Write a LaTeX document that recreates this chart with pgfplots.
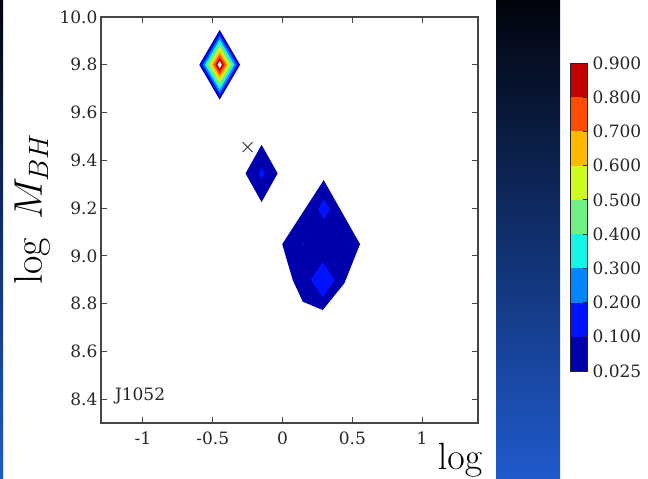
\RequirePackage{fix-cm}
\documentclass[border=0pt]{standalone}
\usepackage[no-math]{fontspec}
\setmainfont{DejaVu Serif}
\usepackage{pgfplots}
\pgfplotsset{compat=1.18}

% slide background
\definecolor{bgtop}{RGB}{2,4,12}
\definecolor{bgmid}{RGB}{14,40,105}
\definecolor{bgbot}{RGB}{32,90,205}
% discrete jet levels
\definecolor{lv1}{RGB}{0,0,172}
\definecolor{lv2}{RGB}{0,18,255}
\definecolor{lv3}{RGB}{0,135,255}
\definecolor{lv4}{RGB}{20,245,230}
\definecolor{lv5}{RGB}{110,240,130}
\definecolor{lv6}{RGB}{206,250,30}
\definecolor{lv7}{RGB}{255,186,0}
\definecolor{lv8}{RGB}{255,77,0}
\definecolor{lv9}{RGB}{194,0,0}
\definecolor{axgray}{RGB}{70,70,70}

\begin{document}
\begin{tikzpicture}[x=1pt,y=1pt]
\path[use as bounding box] (0,0) rectangle (648,479);
\shade[top color=bgtop, middle color=bgmid, bottom color=bgbot] (0,0) rectangle (3,479);
\shade[top color=bgtop, middle color=bgmid, bottom color=bgbot] (496,0) rectangle (560,479);

\begin{axis}[
  at={(101pt,56pt)}, anchor=south west,
  scale only axis, width=377pt, height=406pt,
  xmin=-1.3, xmax=1.4, ymin=8.3, ymax=10.0,
  xtick={-1,-0.5,0,0.5,1},
  xticklabels={-1,-0.5,0,0.5,1},
  ytick={8.4,8.6,8.8,9.0,9.2,9.4,9.6,9.8,10.0},
  yticklabels={8.4,8.6,8.8,9.0,9.2,9.4,9.6,9.8,10.0},
  tick align=inside, major tick length=6pt,
  axis line style={axgray, line width=1.3pt},
  tick style={axgray, line width=1pt},
  ticklabel style={font=\fontsize{17}{20}\selectfont, text=black!85},
  xticklabel style={yshift=-5pt},
  axis on top, clip=false,
]
% J1052 peak near (-0.45, 9.80)
\addplot[fill=lv1, draw=none] coordinates {(-0.596,9.8) (-0.45,9.946) (-0.304,9.8) (-0.45,9.654)} --cycle;
\addplot[fill=lv2, draw=none] coordinates {(-0.585,9.8) (-0.45,9.935) (-0.315,9.8) (-0.45,9.665)} --cycle;
\addplot[fill=lv3, draw=none] coordinates {(-0.570,9.8) (-0.45,9.920) (-0.330,9.8) (-0.45,9.680)} --cycle;
\addplot[fill=lv4, draw=none] coordinates {(-0.555,9.8) (-0.45,9.905) (-0.345,9.8) (-0.45,9.695)} --cycle;
\addplot[fill=lv5, draw=none] coordinates {(-0.540,9.8) (-0.45,9.890) (-0.360,9.8) (-0.45,9.710)} --cycle;
\addplot[fill=lv6, draw=none] coordinates {(-0.525,9.8) (-0.45,9.875) (-0.375,9.8) (-0.45,9.725)} --cycle;
\addplot[fill=lv7, draw=none] coordinates {(-0.510,9.8) (-0.45,9.860) (-0.390,9.8) (-0.45,9.740)} --cycle;
\addplot[fill=lv8, draw=none] coordinates {(-0.495,9.8) (-0.45,9.845) (-0.405,9.8) (-0.45,9.755)} --cycle;
\addplot[fill=lv9, draw=none] coordinates {(-0.480,9.8) (-0.45,9.830) (-0.420,9.8) (-0.45,9.770)} --cycle;
\addplot[fill=white, draw=none] coordinates {(-0.465,9.8) (-0.45,9.815) (-0.435,9.8) (-0.45,9.785)} --cycle;

% second peak near (-0.15, 9.35)
\addplot[fill=lv1, draw=none] coordinates {(-0.265,9.345) (-0.15,9.465) (-0.035,9.345) (-0.15,9.225)} --cycle;
\addplot[fill=lv2, draw=none] coordinates {(-0.172,9.345) (-0.15,9.367) (-0.128,9.345) (-0.15,9.323)} --cycle;

% broad region near (0.3, 9.05)
\addplot[fill=lv1, draw=none] coordinates {(-0.002,9.049) (0.038,8.968) (0.074,8.898) (0.145,8.808) (0.288,8.773) (0.443,8.885) (0.555,9.049) (0.295,9.317)} --cycle;
\addplot[fill=lv2, draw=none] coordinates {(0.255,9.195) (0.297,9.237) (0.339,9.195) (0.297,9.153)} --cycle;
\addplot[fill=lv2, draw=none] coordinates {(0.202,8.900) (0.288,8.973) (0.374,8.900) (0.288,8.827)} --cycle;
\addplot[fill=lv2, draw=none] coordinates {(0.144,9.049) (0.150,9.055) (0.156,9.049) (0.150,9.043)} --cycle;

% reference position
\addplot[only marks, mark=x, mark size=7pt, black!80, line width=0.9pt] coordinates {(-0.25,9.455)};

\node[anchor=west, font=\fontsize{17}{20}\selectfont, text=black!85] at (axis cs:-1.225,8.413) {J1052};
\end{axis}

% colour scale
\begin{axis}[
  at={(570pt,108pt)}, anchor=south west,
  scale only axis, width=17pt, height=308pt,
  xmin=0, xmax=1, ymin=0, ymax=9,
  xtick=\empty,
  ytick={0,1,2,3,4,5,6,7,8,9},
  yticklabels={0.025,0.100,0.200,0.300,0.400,0.500,0.600,0.700,0.800,0.900},
  ytick pos=right, yticklabel pos=right,
  tick align=inside, major tick length=4pt,
  axis line style={black!85, line width=0.8pt},
  tick style={black!85, line width=0.8pt},
  ticklabel style={font=\fontsize{17}{20}\selectfont, text=black!85},
  yticklabel style={xshift=2pt},
  axis on top,
]
\addplot[fill=lv1, draw=none] coordinates {(0,0) (1,0) (1,1) (0,1)} --cycle;
\addplot[fill=lv2, draw=none] coordinates {(0,1) (1,1) (1,2) (0,2)} --cycle;
\addplot[fill=lv3, draw=none] coordinates {(0,2) (1,2) (1,3) (0,3)} --cycle;
\addplot[fill=lv4, draw=none] coordinates {(0,3) (1,3) (1,4) (0,4)} --cycle;
\addplot[fill=lv5, draw=none] coordinates {(0,4) (1,4) (1,5) (0,5)} --cycle;
\addplot[fill=lv6, draw=none] coordinates {(0,5) (1,5) (1,6) (0,6)} --cycle;
\addplot[fill=lv7, draw=none] coordinates {(0,6) (1,6) (1,7) (0,7)} --cycle;
\addplot[fill=lv8, draw=none] coordinates {(0,7) (1,7) (1,8) (0,8)} --cycle;
\addplot[fill=lv9, draw=none] coordinates {(0,8) (1,8) (1,9) (0,9)} --cycle;
\end{axis}

% axis titles
\node[rotate=90, anchor=base west, inner sep=0pt, font=\fontsize{40}{46}\selectfont] at (42,194) {$\log\;M_{BH}$};
\node[anchor=base east, inner sep=0pt, font=\fontsize{38}{44}\selectfont] at (483,9) {$\log$};
\end{tikzpicture}
\end{document}
